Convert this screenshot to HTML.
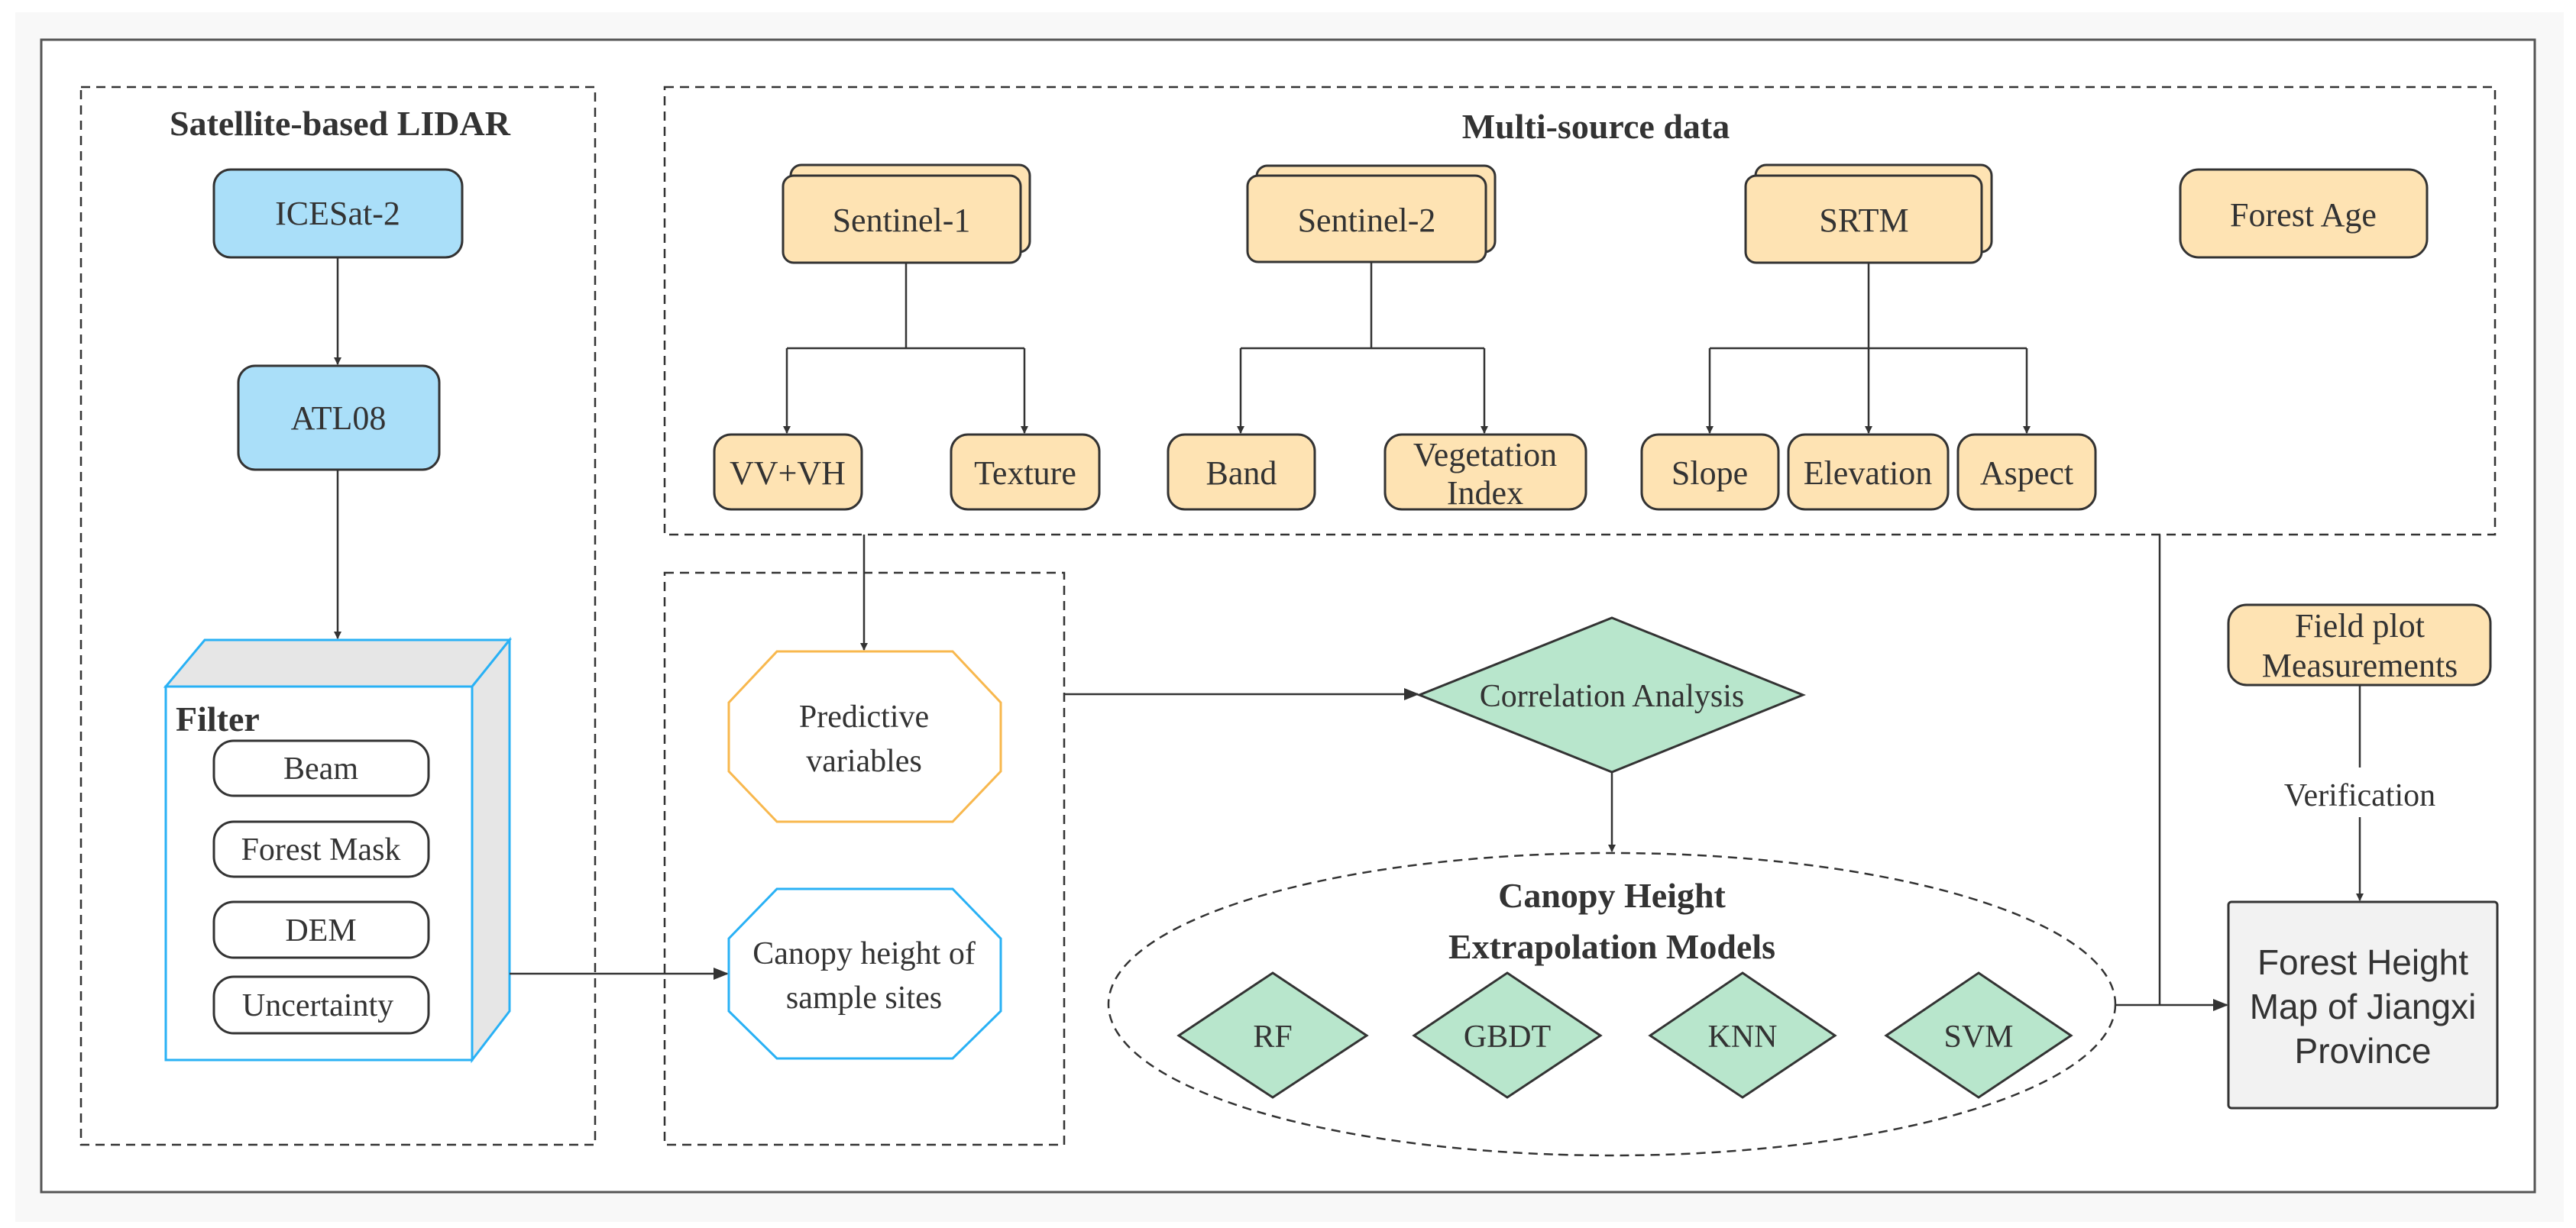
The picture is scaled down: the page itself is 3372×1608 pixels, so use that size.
<!DOCTYPE html>
<html><head><meta charset="utf-8"><style>
html,body{margin:0;padding:0;background:#fff;}
svg{display:block;}
text{font-family:"Liberation Serif",serif;fill:#333;}
</style></head><body>
<svg width="3372" height="1608" viewBox="0 0 3372 1608" xmlns="http://www.w3.org/2000/svg">
<defs>
<marker id="ar" markerWidth="10" markerHeight="10" refX="9" refY="5" orient="auto" markerUnits="userSpaceOnUse" viewBox="0 0 10 10">
<path d="M0,0 L10,5 L0,10 z" fill="#333"/></marker>
<marker id="ab" markerWidth="20" markerHeight="20" refX="18" refY="10" orient="auto" markerUnits="userSpaceOnUse" viewBox="0 0 20 20">
<path d="M0,2 L20,10 L0,18 z" fill="#333"/></marker>
</defs>
<rect x="0" y="0" width="3372" height="1608" fill="#ffffff"/>
<rect x="20" y="16" width="3336" height="1584" fill="#f8f8f8"/>
<rect x="54" y="52" width="3264" height="1509" fill="#fff" stroke="#555" stroke-width="3"/>

<g fill="none" stroke="#333" stroke-width="2.5" stroke-dasharray="12,8">
<rect x="106" y="114" width="673" height="1385"/>
<rect x="870" y="114" width="2396" height="586"/>
<rect x="870" y="750" width="523" height="749"/>
<ellipse cx="2110" cy="1315" rx="659" ry="198"/>
</g>

<text x="445" y="177" font-size="46" font-weight="bold" text-anchor="middle">Satellite-based LIDAR</text>
<text x="2089" y="181" font-size="46" font-weight="bold" text-anchor="middle">Multi-source  data</text>

<g stroke="#333" stroke-width="3">
<rect x="280" y="222" width="325" height="115" rx="22" fill="#aadff9"/>
<rect x="312" y="479" width="263" height="136" rx="22" fill="#aadff9"/>
</g>
<g font-size="44" text-anchor="middle">
<text x="442" y="294">ICESat-2</text>
<text x="443" y="562">ATL08</text>
</g>

<g stroke="#333" stroke-width="2.5" fill="none">
<line x1="442" y1="337" x2="442" y2="477" marker-end="url(#ar)"/>
<line x1="442" y1="615" x2="442" y2="836" marker-end="url(#ar)"/>
</g>

<!-- Filter cube -->
<g stroke="#29b1f5" stroke-width="3">
<polygon points="217,899 268,838 667,838 618,899" fill="#e6e6e6"/>
<polygon points="618,899 667,838 667,1324 618,1388" fill="#e6e6e6"/>
<rect x="217" y="899" width="401" height="489" fill="#fff"/>
</g>
<text x="230" y="957" font-size="46" font-weight="bold">Filter</text>
<g stroke="#333" stroke-width="3" fill="#fff">
<rect x="280" y="970" width="281" height="72" rx="26"/>
<rect x="280" y="1076" width="281" height="72" rx="26"/>
<rect x="280" y="1181" width="281" height="73" rx="26"/>
<rect x="280" y="1279" width="281" height="74" rx="26"/>
</g>
<g font-size="42" text-anchor="middle">
<text x="420" y="1020">Beam</text>
<text x="420" y="1126">Forest Mask</text>
<text x="420" y="1232">DEM</text>
<text x="416" y="1330">Uncertainty</text>
</g>

<!-- stacked sources -->
<g stroke="#333" stroke-width="3" fill="#fee3b3">
<rect x="1035" y="216" width="313" height="114" rx="14"/>
<rect x="1025" y="230" width="311" height="114" rx="14"/>
<rect x="1645" y="217" width="312" height="113" rx="14"/>
<rect x="1633" y="230" width="312" height="113" rx="14"/>
<rect x="2298" y="216" width="309" height="114" rx="14"/>
<rect x="2285" y="230" width="309" height="114" rx="14"/>
<rect x="2854" y="222" width="323" height="115" rx="24"/>
<rect x="935" y="569" width="193" height="98" rx="22"/>
<rect x="1245" y="569" width="194" height="98" rx="22"/>
<rect x="1529" y="569" width="192" height="98" rx="22"/>
<rect x="1813" y="569" width="263" height="98" rx="22"/>
<rect x="2149" y="569" width="179" height="98" rx="22"/>
<rect x="2341" y="569" width="209" height="98" rx="22"/>
<rect x="2563" y="569" width="180" height="98" rx="22"/>
<rect x="2917" y="792" width="343" height="105" rx="24"/>
</g>
<g font-size="44" text-anchor="middle">
<text x="1180" y="303">Sentinel-1</text>
<text x="1789" y="303">Sentinel-2</text>
<text x="2440" y="303">SRTM</text>
<text x="3015" y="296">Forest Age</text>
<text x="1031" y="634">VV+VH</text>
<text x="1342" y="634">Texture</text>
<text x="1625" y="634">Band</text>
<text x="1944" y="610">Vegetation</text>
<text x="1944" y="660">Index</text>
<text x="2238" y="634">Slope</text>
<text x="2445" y="634">Elevation</text>
<text x="2653" y="634">Aspect</text>
<text x="3089" y="834">Field plot</text>
<text x="3089" y="886">Measurements</text>
</g>

<g stroke="#333" stroke-width="2.5" fill="none">
<polyline points="1186,344 1186,456"/>
<polyline points="1030,456 1341,456"/>
<line x1="1030" y1="456" x2="1030" y2="567" marker-end="url(#ar)"/>
<line x1="1341" y1="456" x2="1341" y2="567" marker-end="url(#ar)"/>
<polyline points="1795,343 1795,456"/>
<polyline points="1624,456 1943,456"/>
<line x1="1624" y1="456" x2="1624" y2="567" marker-end="url(#ar)"/>
<line x1="1943" y1="456" x2="1943" y2="567" marker-end="url(#ar)"/>
<line x1="2446" y1="344" x2="2446" y2="567" marker-end="url(#ar)"/>
<polyline points="2238,456 2653,456"/>
<line x1="2238" y1="456" x2="2238" y2="567" marker-end="url(#ar)"/>
<line x1="2653" y1="456" x2="2653" y2="567" marker-end="url(#ar)"/>
<line x1="1131" y1="700" x2="1131" y2="851" marker-end="url(#ar)"/>
<line x1="667" y1="1275" x2="952" y2="1275" marker-end="url(#ab)"/>
<line x1="1393" y1="909" x2="1856" y2="909" marker-end="url(#ab)"/>
<line x1="2110" y1="1011" x2="2110" y2="1115" marker-end="url(#ar)"/>
<polyline points="2827,700 2827,1316"/>
<line x1="2769" y1="1316" x2="2915" y2="1316" marker-end="url(#ab)"/>
<line x1="3089" y1="897" x2="3089" y2="1005"/>
<line x1="3089" y1="1070" x2="3089" y2="1179" marker-end="url(#ar)"/>
</g>

<!-- octagons -->
<polygon points="1017,853 1247,853 1310,920 1310,1010 1247,1076 1017,1076 954,1010 954,920" fill="#fff" stroke="#f8b84e" stroke-width="3"/>
<polygon points="1017,1164 1247,1164 1310,1229 1310,1324 1247,1386 1017,1386 954,1324 954,1229" fill="#fff" stroke="#29b1f5" stroke-width="3"/>
<g font-size="42" text-anchor="middle">
<text x="1131" y="952">Predictive</text>
<text x="1131" y="1010">variables</text>
<text x="1131" y="1262">Canopy height of</text>
<text x="1131" y="1320">sample sites</text>
</g>

<!-- diamonds -->
<g stroke="#333" stroke-width="3" fill="#b8e6cc">
<polygon points="2110,809 2360,910 2110,1011 1858,910"/>
<polygon points="1666,1274 1789,1356 1666,1437 1543,1356"/>
<polygon points="1973,1274 2095,1356 1973,1437 1851,1356"/>
<polygon points="2281,1274 2402,1356 2281,1437 2160,1356"/>
<polygon points="2590,1274 2711,1356 2590,1437 2469,1356"/>
</g>
<g font-size="42" text-anchor="middle">
<text x="2110" y="925">Correlation Analysis</text>
<text x="1666" y="1371">RF</text>
<text x="1973" y="1371">GBDT</text>
<text x="2281" y="1371">KNN</text>
<text x="2590" y="1371">SVM</text>
</g>
<g font-size="46" font-weight="bold" text-anchor="middle">
<text x="2110" y="1188">Canopy Height</text>
<text x="2110" y="1255">Extrapolation Models</text>
</g>
<text x="3089" y="1055" font-size="42" text-anchor="middle">Verification</text>

<rect x="2917" y="1181" width="352" height="270" rx="4" fill="#f2f2f2" stroke="#333" stroke-width="3"/>
<g font-size="46" text-anchor="middle" style="font-family:'Liberation Sans',sans-serif">
<text x="3093" y="1276" style="font-family:'Liberation Sans',sans-serif">Forest Height</text>
<text x="3093" y="1334" style="font-family:'Liberation Sans',sans-serif">Map of Jiangxi</text>
<text x="3093" y="1392" style="font-family:'Liberation Sans',sans-serif">Province</text>
</g>
</svg>
</body></html>
